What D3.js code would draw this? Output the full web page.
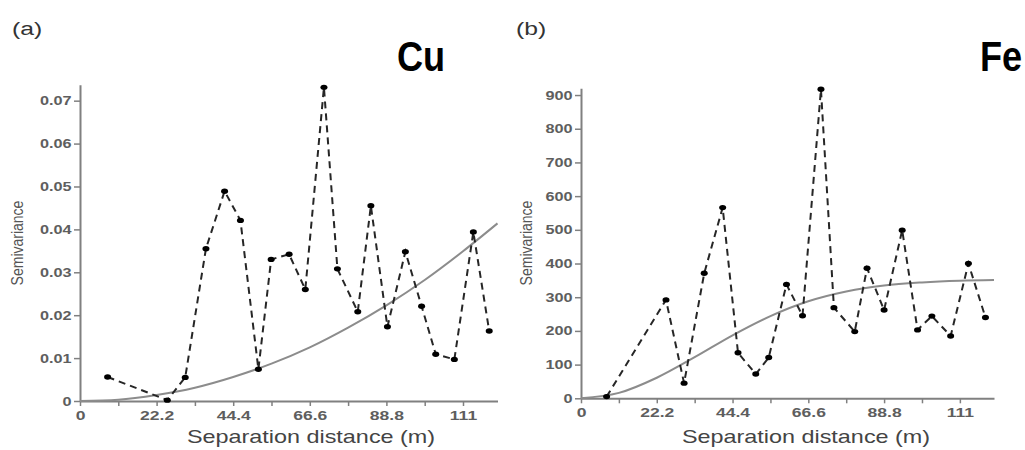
<!DOCTYPE html>
<html>
<head>
<meta charset="utf-8">
<script src="https://cdn.jsdelivr.net/npm/d3@7"></script>
<style>
body { margin: 0; background: #fff; }
text { font-family: 'Liberation Sans', Arial, sans-serif; }
</style>
</head>
<body>
<div class="container"></div>
<script>
// experimental semivariogram points (lag in m, semivariance)
const cuLag = [8.0, 25.3, 30.5, 36.5, 41.9, 46.5, 51.7, 55.4, 60.6, 65.3, 70.7, 74.6, 80.5, 84.3, 89.1, 94.3, 99.0, 103.1, 108.5, 114.0, 118.6]
const cuGamma = [0.0056, 0.0002, 0.0055, 0.0355, 0.0489, 0.0421, 0.0074, 0.0330, 0.0342, 0.0260, 0.0731, 0.0308, 0.0208, 0.0455, 0.0173, 0.0348, 0.0221, 0.0109, 0.0097, 0.0394, 0.0163]

const feLag = [7.5, 24.9, 30.2, 36.1, 41.5, 46.0, 51.2, 55.0, 60.2, 64.9, 70.3, 74.1, 80.2, 83.8, 88.8, 94.1, 98.6, 102.8, 108.3, 113.5, 118.5]
const feGamma = [5, 292, 45, 371, 566, 135, 72, 121, 338, 245, 917, 269, 198, 386, 262, 499, 203, 244, 185, 400, 240]

// fitted model curves
const modelLag = [0, 11.1, 22.2, 33.3, 44.4, 55.5, 66.6, 77.7, 88.8, 99.9, 111, 121]
const cuModel = [0, 0.0003, 0.0014, 0.0031, 0.0056, 0.0087, 0.0125, 0.0171, 0.0223, 0.0282, 0.0349, 0.0414]
const feModel = [0, 16, 61, 122, 187, 244, 288, 317, 335, 344, 349, 351]

const xTicks = [0, 11.1, 22.2, 33.3, 44.4, 55.5, 66.6, 77.7, 88.8, 99.9, 111]
const xTickLabels = ['0', '', '22.2', '', '44.4', '', '66.6', '', '88.8', '', '111']
const cuTicks = [0, 0.01, 0.02, 0.03, 0.04, 0.05, 0.06, 0.07]
const cuTickLabels = ['0', '0.01', '0.02', '0.03', '0.04', '0.05', '0.06', '0.07']
const feTicks = [0, 100, 200, 300, 400, 500, 600, 700, 800, 900]
const feTickLabels = ['0', '100', '200', '300', '400', '500', '600', '700', '800', '900']

const width = 1025
const height = 450
const stretch = 1.3

const svg = d3.select('.container')
    .append('svg')
    .attr('width', width)
    .attr('height', height)

function drawPanel(p) {
    const x = d3.scaleLinear().domain(p.xDomain).range(p.xRange)
    const y = d3.scaleLinear().domain(p.yDomain).range(p.yRange)
    const g = svg.append('g')

    const points = p.lag.map((d, i) => ({ lag: d, gamma: p.gamma[i] }))
    const model = modelLag.map((d, i) => ({ lag: d, gamma: p.model[i] }))

    // x axis
    const xAxis = g.append('g')
        .attr('transform', `translate(0, ${p.yRange[0]})`)
        .call(d3.axisBottom(x)
            .tickValues(xTicks)
            .tickFormat((d, i) => xTickLabels[i])
            .tickSize(5)
            .tickSizeOuter(0)
            .tickPadding(4))
    xAxis.select('.domain').attr('stroke', '#808080').attr('stroke-width', 2)
    xAxis.selectAll('.tick line').attr('stroke', '#808080').attr('stroke-width', 1.5)
    xAxis.selectAll('.tick text')
        .attr('transform', `scale(${stretch},1)`)
        .attr('font-size', '13.5px')
        .attr('font-weight', 'bold')
        .attr('fill', '#5e5e5e')
        .attr('font-family', "'Liberation Sans', Arial, sans-serif")

    // y axis
    const yAxis = g.append('g')
        .attr('transform', `translate(${p.xRange[0]}, 0)`)
        .call(d3.axisLeft(y)
            .tickValues(p.yTicks)
            .tickFormat((d, i) => p.yTickLabels[i])
            .tickSize(6)
            .tickSizeOuter(0)
            .tickPadding(2))
    yAxis.select('.domain').attr('stroke', '#808080').attr('stroke-width', 2)
    yAxis.selectAll('.tick line').attr('stroke', '#808080').attr('stroke-width', 1.5)
    yAxis.selectAll('.tick text')
        .attr('x', -8.5 / stretch)
        .attr('transform', `scale(${stretch},1)`)
        .attr('font-size', '12.5px')
        .attr('font-weight', 'bold')
        .attr('fill', '#5e5e5e')
        .attr('font-family', "'Liberation Sans', Arial, sans-serif")

    // model line
    g.append('path')
        .datum(model)
        .attr('fill', 'none')
        .attr('stroke', '#8c8c8c')
        .attr('stroke-width', 2)
        .attr('d', d3.line()
            .x((d) => x(d.lag))
            .y((d) => y(d.gamma))
            .curve(d3.curveMonotoneX))

    // experimental line
    g.append('path')
        .datum(points)
        .attr('fill', 'none')
        .attr('stroke', '#262626')
        .attr('stroke-width', 2)
        .attr('stroke-dasharray', '7,5')
        .attr('d', d3.line()
            .x((d) => x(d.lag))
            .y((d) => y(d.gamma)))

    g.selectAll('ellipse')
        .data(points)
        .enter()
        .append('ellipse')
        .attr('cx', (d) => x(d.lag))
        .attr('cy', (d) => y(d.gamma))
        .attr('rx', 3.5)
        .attr('ry', 2.7)
        .attr('fill', '#000')

    // labels
    g.append('text')
        .text(p.tag)
        .attr('transform', `translate(${p.tagX}, 35) scale(${stretch},1)`)
        .attr('font-size', '19px')
        .attr('fill', '#333')

    g.append('text')
        .text(p.element)
        .attr('transform', `translate(${p.elX}, 71) scale(0.86,1)`)
        .attr('font-size', '42px')
        .attr('font-weight', 'bold')
        .attr('fill', '#000')

    g.append('text')
        .text('Semivariance')
        .attr('transform', `translate(${p.yLabelX}, 243) scale(1.15,1) rotate(-90)`)
        .attr('text-anchor', 'middle')
        .attr('font-size', '14px')
        .attr('fill', '#555')

    g.append('text')
        .text('Separation distance (m)')
        .attr('transform', `translate(${p.xLabelX}, 443) scale(${stretch},1)`)
        .attr('text-anchor', 'middle')
        .attr('font-size', '18px')
        .attr('fill', '#444')
}

drawPanel({
    lag: cuLag, gamma: cuGamma, model: cuModel,
    xDomain: [0, 121], xRange: [80, 497.5],
    yDomain: [0, 0.0737], yRange: [401, 84.8],
    yTicks: cuTicks, yTickLabels: cuTickLabels,
    tag: '(a)', tagX: 12, element: 'Cu', elX: 397, yLabelX: 23, xLabelX: 311
})

drawPanel({
    lag: feLag, gamma: feGamma, model: feModel,
    xDomain: [0, 121], xRange: [581, 994],
    yDomain: [0, 920], yRange: [398.3, 88.3],
    yTicks: feTicks, yTickLabels: feTickLabels,
    tag: '(b)', tagX: 516, element: 'Fe', elX: 980, yLabelX: 532, xLabelX: 806
})
</script>
</body>
</html>
